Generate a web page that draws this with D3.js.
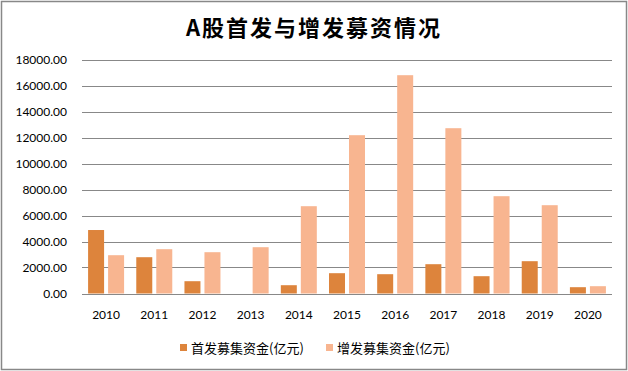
<!DOCTYPE html>
<html>
<head>
<meta charset="utf-8">
<script src="https://cdn.jsdelivr.net/npm/d3@7"></script>
<style>
  body { margin: 0; background: #fff; }
</style>
</head>
<body>
<div id="chart"></div>
<script>
const years = ["2010", "2011", "2012", "2013", "2014", "2015", "2016", "2017", "2018", "2019", "2020"];
const ipoValues = [4883, 2792, 946, 0, 638, 1562, 1485, 2254, 1331, 2485, 485];
const seoValues = [2946, 3408, 3177, 3562, 6715, 12177, 16792, 12715, 7485, 6792, 562];
const seriesNames = ["首发募集资金(亿元)", "增发募集资金(亿元)"];
const yTicks = [0, 2000, 4000, 6000, 8000, 10000, 12000, 14000, 16000, 18000];

const width = 628;
const height = 371;
const colors = ["#dd843c", "#f8b590"];
const latin = "Lato, 'Noto Sans', sans-serif";
const cjk = "'Noto Sans CJK SC', 'Noto Sans', sans-serif";

const svg = d3.select("#chart").append("svg")
    .attr("width", width)
    .attr("height", height);

svg.append("rect")
    .attr("x", 1.5).attr("y", 1.5)
    .attr("width", width - 3).attr("height", height - 3)
    .attr("fill", "#fff")
    .attr("stroke", "#888")
    .attr("stroke-width", 1.5);

svg.append("text")
    .attr("x", 314).attr("y", 36)
    .attr("text-anchor", "middle")
    .attr("font-family", cjk)
    .attr("font-weight", "bold")
    .attr("font-size", 22)
    .attr("letter-spacing", 2)
    .text("A股首发与增发募资情况");

const x = d3.scaleBand().domain(years).range([82, 612]);
const y = d3.scaleLinear().domain([0, 18000]).range([293.5, 59.5]);

// grid
svg.append("g")
    .selectAll("line")
    .data(yTicks)
    .join("line")
    .attr("x1", 82).attr("x2", 612)
    .attr("y1", d => Math.round(y(d)) + 0.5)
    .attr("y2", d => Math.round(y(d)) + 0.5)
    .attr("stroke", "#888")
    .attr("stroke-width", 1);

// y labels
svg.append("g")
    .selectAll("text")
    .data(yTicks)
    .join("text")
    .attr("x", 67)
    .attr("y", d => y(d) + 4)
    .attr("text-anchor", "end")
    .attr("font-family", latin)
    .attr("font-size", 12)
    .attr("fill", "#000")
    .text(d => d.toFixed(2));

const barW = 16;
const gap = 4;
const groupOffset = (x.bandwidth() - (2 * barW + gap)) / 2;

const bars = svg.append("g");
[ipoValues, seoValues].forEach((vals, i) => {
    bars.append("g")
        .selectAll("rect")
        .data(vals)
        .join("rect")
        .attr("x", (d, j) => x(years[j]) + groupOffset + i * (barW + gap))
        .attr("y", d => y(d))
        .attr("width", barW)
        .attr("height", d => y(0) - y(d))
        .attr("fill", colors[i]);
});

// x labels
svg.append("g")
    .selectAll("text")
    .data(years)
    .join("text")
    .attr("x", d => x(d) + x.bandwidth() / 2)
    .attr("y", 319)
    .attr("text-anchor", "middle")
    .attr("font-family", latin)
    .attr("font-size", 12)
    .text(d => d);

// legend
const legendX = [180, 326];
const legend = svg.append("g")
    .selectAll("g")
    .data(seriesNames)
    .join("g")
    .attr("transform", (d, i) => `translate(${legendX[i]}, 349)`);
legend.append("rect")
    .attr("x", 0).attr("y", -5)
    .attr("width", 7).attr("height", 7)
    .attr("fill", (d, i) => colors[i]);
legend.append("text")
    .attr("x", 11).attr("y", 4)
    .attr("font-family", cjk)
    .attr("font-size", 13)
    .text(d => d);
</script>
</body>
</html>
